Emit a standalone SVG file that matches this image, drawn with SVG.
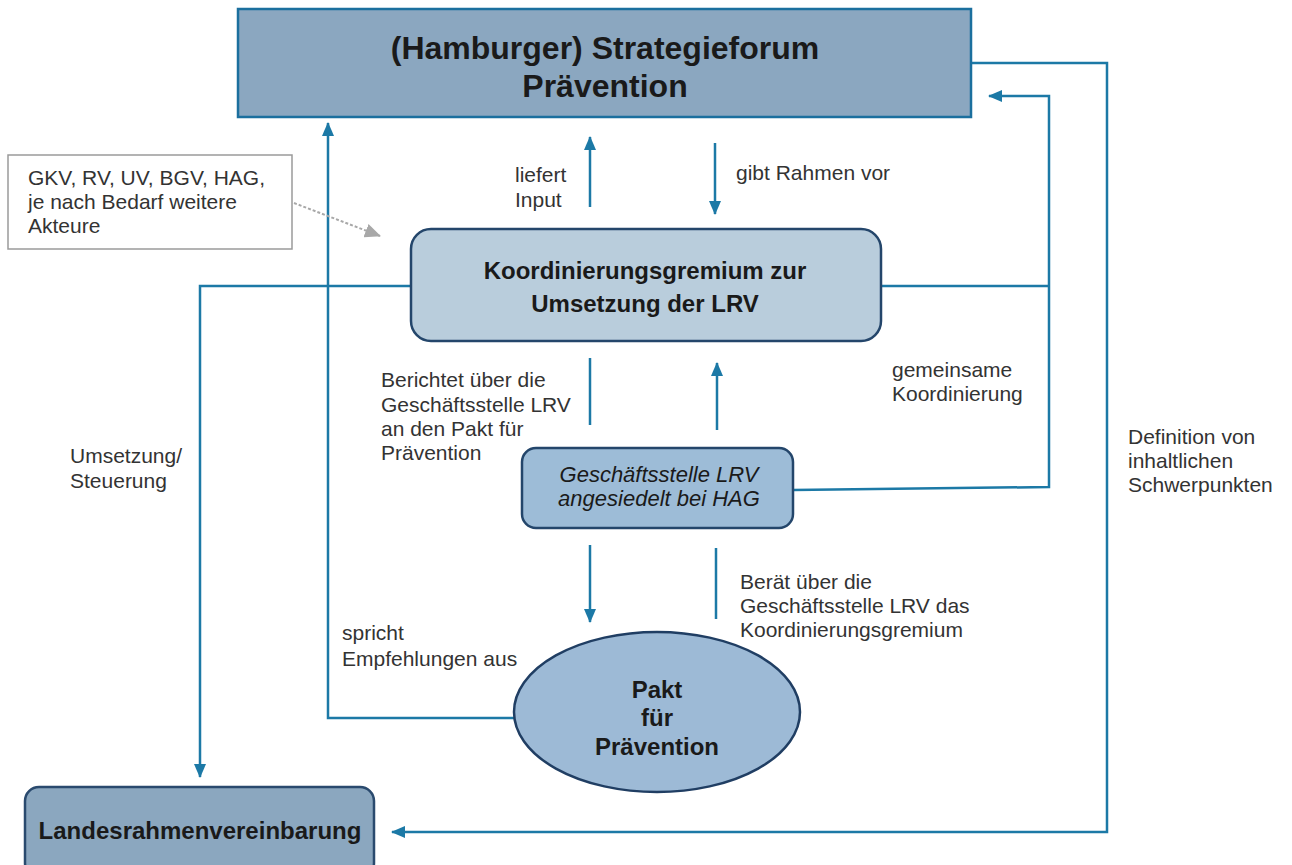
<svg xmlns="http://www.w3.org/2000/svg" width="1292" height="865" viewBox="0 0 1292 865">
<style>
.lbl{font-family:"Liberation Sans",Arial,sans-serif;font-size:21px;fill:#333}
.ttl{font-family:"Liberation Sans",Arial,sans-serif;font-weight:bold;fill:#1a1a1a;text-anchor:middle}
.con{fill:none;stroke:#1c79a6;stroke-width:2.5}
</style>
<defs>
<marker id="ah" markerWidth="14" markerHeight="12" refX="13" refY="6" orient="auto" markerUnits="userSpaceOnUse">
<path d="M0,0 L14,6 L0,12 Z" fill="#1c79a6"/>
</marker>
<marker id="ahg" markerWidth="16" markerHeight="14" refX="15" refY="7" orient="auto" markerUnits="userSpaceOnUse">
<path d="M0,0 L16,7 L0,14 Z" fill="#a8a8a8"/>
</marker>
</defs>
<rect width="1292" height="865" fill="#fff"/>

<g id="connectors">
<path class="con" d="M590,207 V137" marker-end="url(#ah)"/>
<path class="con" d="M715,143 V214" marker-end="url(#ah)"/>
<path class="con" d="M411,286 H200 V777" marker-end="url(#ah)"/>
<path class="con" d="M514,718 H328 V123" marker-end="url(#ah)"/>
<path class="con" d="M881,286 H1049"/>
<path class="con" d="M793,490 L1049,487 V96 H989" marker-end="url(#ah)"/>
<path class="con" d="M971,63 H1107 V832 H392" marker-end="url(#ah)"/>
<path class="con" d="M590,358 V425"/>
<path class="con" d="M717,430 V363" marker-end="url(#ah)"/>
<path class="con" d="M590,545 V622" marker-end="url(#ah)"/>
<path class="con" d="M716,548 V619"/>
<path d="M294,203 L380,236" fill="none" stroke="#a8a8a8" stroke-width="2" stroke-dasharray="3,2" marker-end="url(#ahg)"/>
</g>

<g id="strategieforum">
<rect x="238" y="9" width="733" height="108" fill="#8ba7c0" stroke="#1b6f9e" stroke-width="2.5"/>
<text class="ttl" x="605" y="59" font-size="32">(Hamburger) Strategieforum</text>
<text class="ttl" x="605" y="97" font-size="32">Prävention</text>
</g>

<g id="akteure">
<rect x="8" y="155" width="284" height="94" fill="#fff" stroke="#9a9a9a" stroke-width="1.5"/>
<text class="lbl" x="28" y="185">GKV, RV, UV, BGV, HAG,</text>
<text class="lbl" x="28" y="209">je nach Bedarf weitere</text>
<text class="lbl" x="28" y="233">Akteure</text>
</g>

<g id="koordinierungsgremium">
<rect x="411" y="229" width="470" height="112" rx="20" fill="#b9cddc" stroke="#24466b" stroke-width="2.5"/>
<text class="ttl" x="645" y="279" font-size="24">Koordinierungsgremium zur</text>
<text class="ttl" x="645" y="312" font-size="24">Umsetzung der LRV</text>
</g>

<g id="geschaeftsstelle">
<rect x="522" y="448" width="271" height="80" rx="14" fill="#9dbcd7" stroke="#24466b" stroke-width="2.5"/>
<text x="659" y="482" font-family="Liberation Sans,Arial,sans-serif" font-size="22" font-style="italic" fill="#1a1a1a" text-anchor="middle">Geschäftsstelle LRV</text>
<text x="659" y="506" font-family="Liberation Sans,Arial,sans-serif" font-size="22" font-style="italic" fill="#1a1a1a" text-anchor="middle">angesiedelt bei HAG</text>
</g>

<g id="pakt">
<ellipse cx="657" cy="712" rx="143" ry="80" fill="#9dbad6" stroke="#203e63" stroke-width="2.5"/>
<text class="ttl" x="657" y="698" font-size="24">Pakt</text>
<text class="ttl" x="657" y="726" font-size="24">für</text>
<text class="ttl" x="657" y="755" font-size="24">Prävention</text>
</g>

<g id="landesrahmenvereinbarung">
<rect x="25" y="787" width="349" height="90" rx="14" fill="#8ba7bf" stroke="#2a4a6e" stroke-width="2.5"/>
<text class="ttl" x="200" y="839" font-size="24">Landesrahmenvereinbarung</text>
</g>

<g id="labels">
<text class="lbl" x="515" y="182">liefert</text>
<text class="lbl" x="515" y="207">Input</text>
<text class="lbl" x="736" y="180">gibt Rahmen vor</text>
<text class="lbl" x="381" y="387">Berichtet über die</text>
<text class="lbl" x="381" y="412">Geschäftsstelle LRV</text>
<text class="lbl" x="381" y="436">an den Pakt für</text>
<text class="lbl" x="381" y="460">Prävention</text>
<text class="lbl" x="892" y="377">gemeinsame</text>
<text class="lbl" x="892" y="401">Koordinierung</text>
<text class="lbl" x="70" y="463">Umsetzung/</text>
<text class="lbl" x="70" y="488">Steuerung</text>
<text class="lbl" x="1128" y="444">Definition von</text>
<text class="lbl" x="1128" y="468">inhaltlichen</text>
<text class="lbl" x="1128" y="492">Schwerpunkten</text>
<text class="lbl" x="740" y="589">Berät über die</text>
<text class="lbl" x="740" y="613">Geschäftsstelle LRV das</text>
<text class="lbl" x="740" y="637">Koordinierungsgremium</text>
<text class="lbl" x="342" y="640">spricht</text>
<text class="lbl" x="342" y="666">Empfehlungen aus</text>
</g>
</svg>
